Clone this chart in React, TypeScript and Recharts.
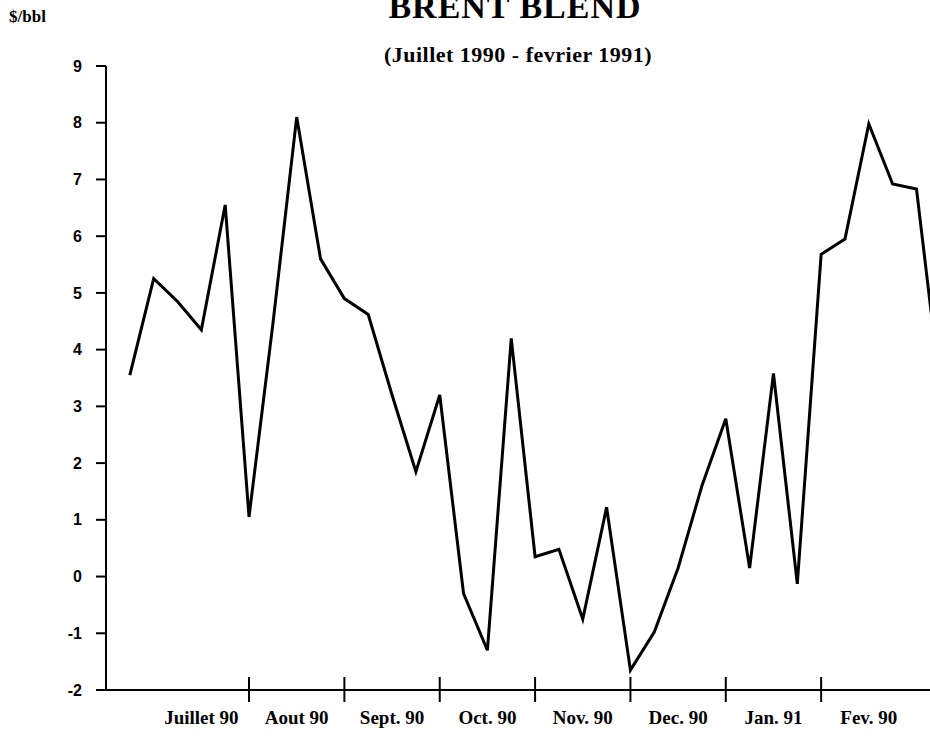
import React from 'react';
import { LineChart, Line, XAxis, YAxis } from 'recharts';

// Brent Blend, weekly values ($/bbl), July 1990 - February 1991
const SPREAD = [
  3.55, 5.25, 4.85, 4.35, 6.55, 1.05, 4.45, 8.1, 5.6, 4.9,
  4.62, 3.2, 1.85, 3.2, -0.3, -1.3, 4.2, 0.35, 0.48, -0.75,
  1.22, -1.65, -0.98, 0.15, 1.6, 2.78, 0.15, 3.58, -0.13, 5.68,
  5.95, 7.98, 6.92, 6.83, 3.3,
];

const MONTH_TICKS = [5, 9, 13, 17, 21, 25, 29];
const LABEL_POS = [3, 7, 11, 15, 19, 23, 27, 31];
const MONTH_LABELS = ['Juillet 90', 'Aout 90', 'Sept. 90', 'Oct. 90', 'Nov. 90', 'Dec. 90', 'Jan. 91', 'Fev. 90'];
const Y_TICKS = [-2, -1, 0, 1, 2, 3, 4, 5, 6, 7, 8, 9];

const data = SPREAD.map((v, i) => ({ week: i, value: v }));
const xTicks = [...LABEL_POS, ...MONTH_TICKS].sort((a, b) => a - b);

const SERIF = '"Liberation Serif", "DejaVu Serif", serif';
const SANS = '"Liberation Sans", Arial, sans-serif';

const MonthTick = (props: any) => {
  const { x, y, payload } = props;
  const li = LABEL_POS.indexOf(payload.value);
  if (li >= 0) {
    return (
      <text x={x} y={y + 34} textAnchor="middle" fontFamily={SERIF} fontWeight="bold" fontSize={19} fill="#000">
        {MONTH_LABELS[li]}
      </text>
    );
  }
  return <line x1={x} x2={x} y1={y - 13} y2={y + 12} stroke="#000" strokeWidth={2} />;
};

export default function App() {
  return (
    <div style={{ position: 'absolute', left: 0, top: 0, width: 930, height: 740, overflow: 'hidden', background: '#fff' }}>
      <LineChart width={988} height={740} data={data} margin={{ top: 66, right: 0, left: 0, bottom: 0 }}>
        <XAxis
          dataKey="week"
          type="number"
          domain={[-1, 36]}
          ticks={xTicks}
          interval={0}
          allowDataOverflow
          height={50}
          tickSize={0}
          tickMargin={0}
          tickLine={false}
          axisLine={{ stroke: '#000', strokeWidth: 2 }}
          tick={<MonthTick />}
        />
        <YAxis
          type="number"
          domain={[-2, 9]}
          ticks={Y_TICKS}
          interval={0}
          width={106}
          tickSize={10}
          tickMargin={14}
          axisLine={{ stroke: '#000', strokeWidth: 2 }}
          tickLine={{ stroke: '#000', strokeWidth: 2 }}
          tick={{ fill: '#000', fontFamily: SANS, fontWeight: 'bold', fontSize: 16 }}
        />
        <Line
          type="linear"
          dataKey="value"
          stroke="#000"
          strokeWidth={3}
          dot={false}
          isAnimationActive={false}
        />
      </LineChart>
      <svg width={930} height={740} style={{ position: 'absolute', left: 0, top: 0, pointerEvents: 'none' }}>
        <text x={515} y={18} textAnchor="middle" fontFamily={SERIF} fontWeight="bold" fontSize={34} letterSpacing={1} fill="#000">
          BRENT BLEND
        </text>
        <text x={518} y={62} textAnchor="middle" fontFamily={SERIF} fontWeight="bold" fontSize={22} letterSpacing={0.5} fill="#000">
          (Juillet 1990 - fevrier 1991)
        </text>
        <text x={9} y={22} fontFamily={SERIF} fontWeight="bold" fontSize={17} fill="#000">
          $/bbl
        </text>
      </svg>
    </div>
  );
}
